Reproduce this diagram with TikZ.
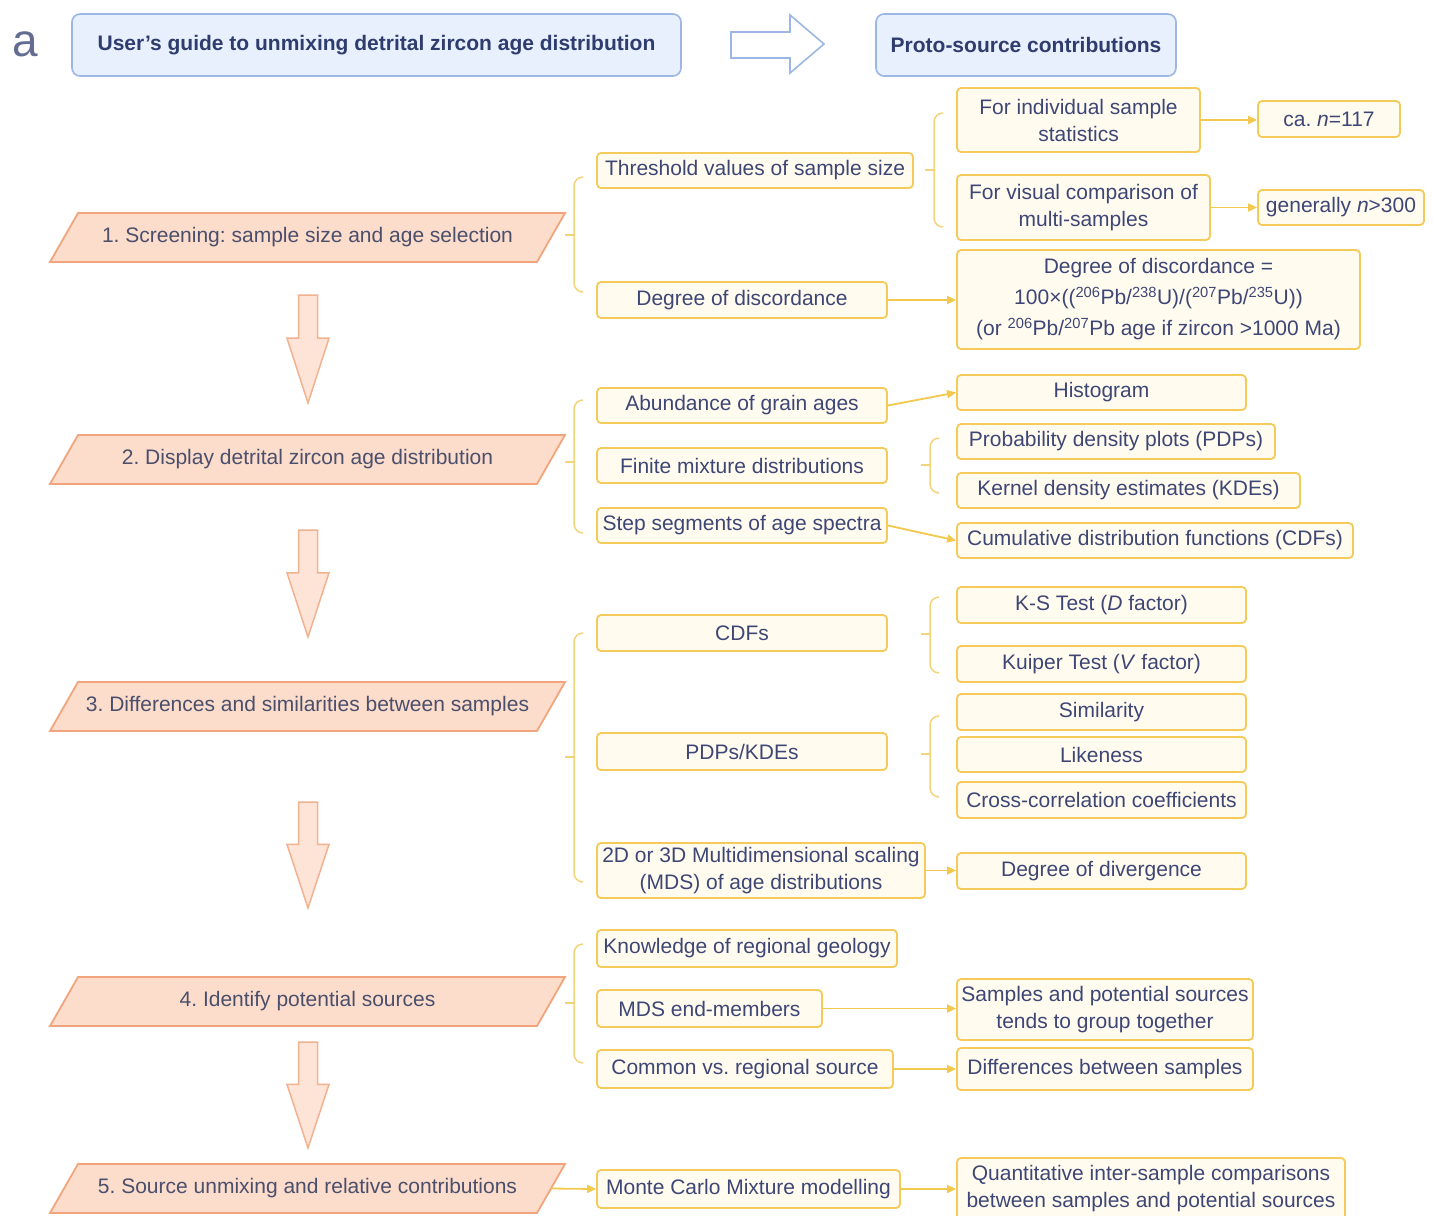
\documentclass[tikz,border=0pt]{standalone}
\usepackage{fontspec}
\setmainfont{Liberation Sans}
\usetikzlibrary{arrows.meta}
\definecolor{txt}{HTML}{3E4676}
\definecolor{ptxt}{HTML}{4A4F6C}
\definecolor{htxt}{HTML}{2F3C6E}
\definecolor{bfill}{HTML}{E7F0FC}
\definecolor{bbord}{HTML}{9DB7E4}
\definecolor{pfill}{HTML}{FCDCCB}
\definecolor{pbord}{HTML}{F2A57C}
\definecolor{afill}{HTML}{FDE4D7}
\definecolor{abord}{HTML}{F1B38F}
\definecolor{yfill}{HTML}{FFFCEF}
\definecolor{ybord}{HTML}{F4CB5B}
\definecolor{yarr}{HTML}{F2C94E}
\definecolor{ybrace}{HTML}{F3D478}
\newcommand\bodyf{\fontsize{21}{27}\selectfont\frenchspacing}
\newcommand\para[4]{%
  \draw[pshape] (78,#2) -- (565,#2) -- (537,#3) -- (50,#3) -- cycle;
  \node[ptext, minimum width=487pt] (#1) at ({307.5},{(#2+#3)/2}) {#4};}
\newcommand\darr[2]{%
  \draw[ashape] (298.5,#1) -- (317.5,#1) -- (317.5,{#1+0.4*(#2-#1)}) -- (329,{#1+0.4*(#2-#1)})
    -- (308,#2) -- (287,{#1+0.4*(#2-#1)}) -- (298.5,{#1+0.4*(#2-#1)}) -- cycle;}
\newcommand\brk[4]{% x, top, bottom, tick
  \draw[brace] ({#1+9},#2) to[out=180,in=90] (#1,{#2+9}) -- (#1,{#3-9}) to[out=-90,in=180] ({#1+9},#3);
  \draw[brace] (#1,#4) -- ({#1-9},#4);}
% box from corners: [style]{name}{x1}{y1}{x2}{y2}{text}
\newcommand\bx[7][ybox]{%
  \pgfmathsetmacro\bxcx{(#3+#5)/2}\pgfmathsetmacro\bxcy{(#4+#6)/2}%
  \pgfmathsetmacro\bxw{#5-#3}\pgfmathsetmacro\bxh{#6-#4}%
  \node[#1, minimum width=\bxw pt, minimum height=\bxh pt] (#2) at (\bxcx,\bxcy) {#7};}
\begin{document}
\begin{tikzpicture}[x=1pt,y=-1pt,
  ybox/.style={draw=ybord, fill=yfill, line width=1.8pt, rounded corners=4pt, inner sep=0pt,
    align=center, text=txt, font=\bodyf},
  fbox/.style={ybox, font=\fontsize{21}{31}\selectfont},
  hbox/.style={draw=bbord, fill=bfill, line width=1.6pt, rounded corners=8pt, inner sep=0pt,
    align=center, text=htxt, font=\fontsize{21}{24}\selectfont\bfseries\frenchspacing},
  pshape/.style={draw=pbord, fill=pfill, line width=1.8pt},
  ptext/.style={inner sep=0pt, text=ptxt, font=\bodyf},
  ashape/.style={draw=abord, fill=afill, line width=1.5pt, line join=miter},
  conn/.style={draw=yarr, line width=1.8pt, -{Triangle[length=9pt,width=8pt]}},
  brace/.style={draw=ybrace, line width=1.5pt}]
\useasboundingbox (0,0) rectangle (1433,1216);
\fill[white] (0,0) rectangle (1433,1216);

% header
\node[text=htxt!75, font=\fontsize{46}{46}\selectfont, inner sep=0pt] (lbl) at (25,44) {a};
\bx[hbox]{h1}{72}{14}{681}{76}{User's guide to unmixing detrital zircon age distribution}
\bx[hbox]{h2}{876}{14}{1176}{76}{Proto-source contributions}
\draw[draw=bbord, fill=white, line width=1.6pt, line join=miter]
  (731,32) -- (790,32) -- (790,15) -- (824,44) -- (790,73) -- (790,58) -- (731,58) -- cycle;

% level 1
\para{p1}{213}{262}{1. Screening: sample size and age selection}
\para{p2}{435}{484}{2. Display detrital zircon age distribution}
\para{p3}{682}{731}{3. Differences and similarities between samples}
\para{p4}{977}{1026}{4. Identify potential sources}
\para{p5}{1164}{1213}{5. Source unmixing and relative contributions}
\darr{295}{403}
\darr{530}{637}
\darr{802}{908}
\darr{1042}{1148}

% level 1 braces
\brk{574}{177}{292}{235}
\brk{574}{400}{533}{462}
\brk{574}{633}{882}{757}
\brk{574}{944}{1063}{1003}

% level 2
\bx{thr}{597}{153}{913}{188}{Threshold values of sample size}
\bx{dd}{597}{282}{887}{318}{Degree of discordance}
\bx{abund}{597}{388}{887}{423}{Abundance of grain ages}
\bx{fmd}{597}{448}{887}{483}{Finite mixture distributions}
\bx{step}{597}{508}{887}{543}{Step segments of age spectra}
\bx{cdf}{597}{615}{887}{651}{CDFs}
\bx{pdp}{597}{733}{887}{770}{PDPs/KDEs}
\bx{mds}{597}{843}{925}{898}{2D or 3D Multidimensional scaling\\(MDS) of age distributions}
\bx{know}{597}{930}{897}{967}{Knowledge of regional geology}
\bx{mdse}{597}{990}{822}{1027}{MDS end-members}
\bx{crs}{597}{1050}{893}{1088}{Common vs. regional source}
\bx{mc}{597}{1170}{900}{1208}{Monte Carlo Mixture modelling}

% level 2 braces
\brk{934}{113}{227}{170}
\brk{930}{438}{493}{465}
\brk{930}{597}{673}{634}
\brk{930}{716}{797}{754}

% level 3
\bx{ind}{957}{88}{1200}{152}{For individual sample\\statistics}
\bx{ca}{1258}{101}{1400}{137}{ca. \textit{n}=117}
\bx{vis}{957}{175}{1210}{240}{For visual comparison of\\multi-samples}
\bx{gen}{1258}{190}{1424}{225}{generally \textit{n}>300}
\bx[fbox]{form}{957}{250}{1360}{349}{Degree of discordance =\\100×((\textsuperscript{206}Pb/\textsuperscript{238}U)/(\textsuperscript{207}Pb/\textsuperscript{235}U))\\(or \textsuperscript{206}Pb/\textsuperscript{207}Pb age if zircon >1000 Ma)}
\bx{hist}{957}{375}{1246}{410}{Histogram}
\bx{pdps}{957}{424}{1275}{459}{Probability density plots (PDPs)}
\bx{kde}{957}{473}{1300}{508}{Kernel density estimates (KDEs)}
\bx{cdfs}{957}{523}{1353}{558}{Cumulative distribution functions (CDFs)}
\bx{ks}{957}{587}{1246}{623}{K-S Test (\textit{D} factor)}
\bx{kui}{957}{646}{1246}{682}{Kuiper Test (\textit{V} factor)}
\bx{sim}{957}{694}{1246}{730}{Similarity}
\bx{lik}{957}{737}{1246}{772}{Likeness}
\bx{ccc}{957}{782}{1246}{818}{Cross-correlation coefficients}
\bx{div}{957}{853}{1246}{889}{Degree of divergence}
\bx{grp}{957}{979}{1253}{1040}{Samples and potential sources\\tends to group together}
\bx{diff}{957}{1048}{1253}{1090}{Differences between samples}
\bx{quant}{957}{1158}{1345}{1220}{Quantitative inter-sample comparisons\\between samples and potential sources}

% connectors
\draw[conn] (ind.east) -- (ind.east -| ca.west);
\draw[conn] (vis.east) -- (vis.east -| gen.west);
\draw[conn] (dd.east) -- (dd.east -| form.west);
\draw[conn] (abund.east) -- (hist.west);
\draw[conn] (step.east) -- (cdfs.west);
\draw[conn] (mds.east) -- (mds.east -| div.west);
\draw[conn] (mdse.east) -- (mdse.east -| grp.west);
\draw[conn] (crs.east) -- (crs.east -| diff.west);
\draw[conn] (p5.east) -- (mc.west);
\draw[conn] (mc.east) -- (mc.east -| quant.west);
\end{tikzpicture}
\end{document}
